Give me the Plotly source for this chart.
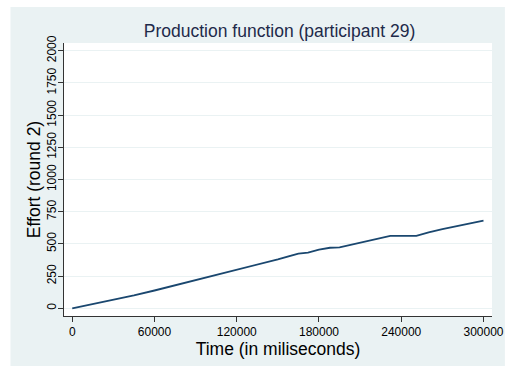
import plotly.graph_objects as go

# Effort over the course of round 2 for participant 29
time_ms = [0, 15000, 30000, 45000, 60000, 75000, 90000, 105000, 120000, 135000,
           142000, 150000, 165000, 172000, 180000, 188000, 195000, 210000, 220000,
           232000, 251000, 260000, 270000, 285000, 300000]
effort = [0, 33, 66, 100, 138, 178, 218, 262, 304, 344,
          362, 380, 425, 432, 455, 470, 473, 508, 535,
          562, 562, 590, 614, 647, 680]

x_ticks = [0, 60000, 120000, 180000, 240000, 300000]
y_ticks = [0, 250, 500, 750, 1000, 1250, 1500, 1750, 2000]

BG = "#eaf2f3"
NAVY = "#1a476f"
FONT = "Liberation Sans, Arial, Helvetica, sans-serif"

fig = go.Figure()
fig.add_trace(go.Scatter(
    x=time_ms, y=effort, mode="lines",
    line=dict(color=NAVY, width=1.8),
    showlegend=False, hoverinfo="x+y",
))

fig.update_layout(
    width=516, height=367,
    margin=dict(l=64, r=20, t=43, b=51),
    paper_bgcolor="white",
    plot_bgcolor="white",
    font=dict(family=FONT, color="black"),
    title=dict(
        text="Production function (participant 29)",
        font=dict(size=17.5, color="#1e2a4a", family=FONT),
        x=0.5417, xanchor="center",
        y=1 - 31 / 367, yanchor="middle",
        xref="container", yref="container",
    ),
    shapes=[
        dict(type="rect", xref="paper", yref="paper",
             x0=-0.125, x1=1.0301, y0=-0.1832, y1=1.1319,
             fillcolor=BG, line=dict(width=0), layer="below"),
        dict(type="rect", xref="paper", yref="paper",
             x0=0, x1=1, y0=0, y1=1,
             fillcolor="white", line=dict(width=0), layer="below"),
    ],
)

fig.update_xaxes(
    range=[-6000, 306200],
    tickvals=x_ticks, ticktext=[str(v) for v in x_ticks],
    ticks="outside", ticklen=5, tickwidth=1, tickcolor="#333333",
    tickfont=dict(size=12, family=FONT, color="black"),
    showline=True, linecolor="#333333", linewidth=1,
    showgrid=False, zeroline=False,
    title=dict(text="Time (in miliseconds)",
               font=dict(size=17.5, family=FONT, color="black"),
               standoff=2),
)

fig.update_yaxes(
    range=[-60, 2060],
    tickvals=y_ticks, ticktext=[str(v) for v in y_ticks],
    tickangle=-90,
    ticklabelstandoff=-3,
    ticks="outside", ticklen=5, tickwidth=1, tickcolor="#333333",
    tickfont=dict(size=12, family=FONT, color="black"),
    showline=True, linecolor="#333333", linewidth=1,
    showgrid=True, gridcolor=BG, gridwidth=1,
    zeroline=False,
    title=dict(text="Effort (round 2)",
               font=dict(size=17.5, family=FONT, color="black"),
               standoff=0),
)

fig.write_html("out.html")
